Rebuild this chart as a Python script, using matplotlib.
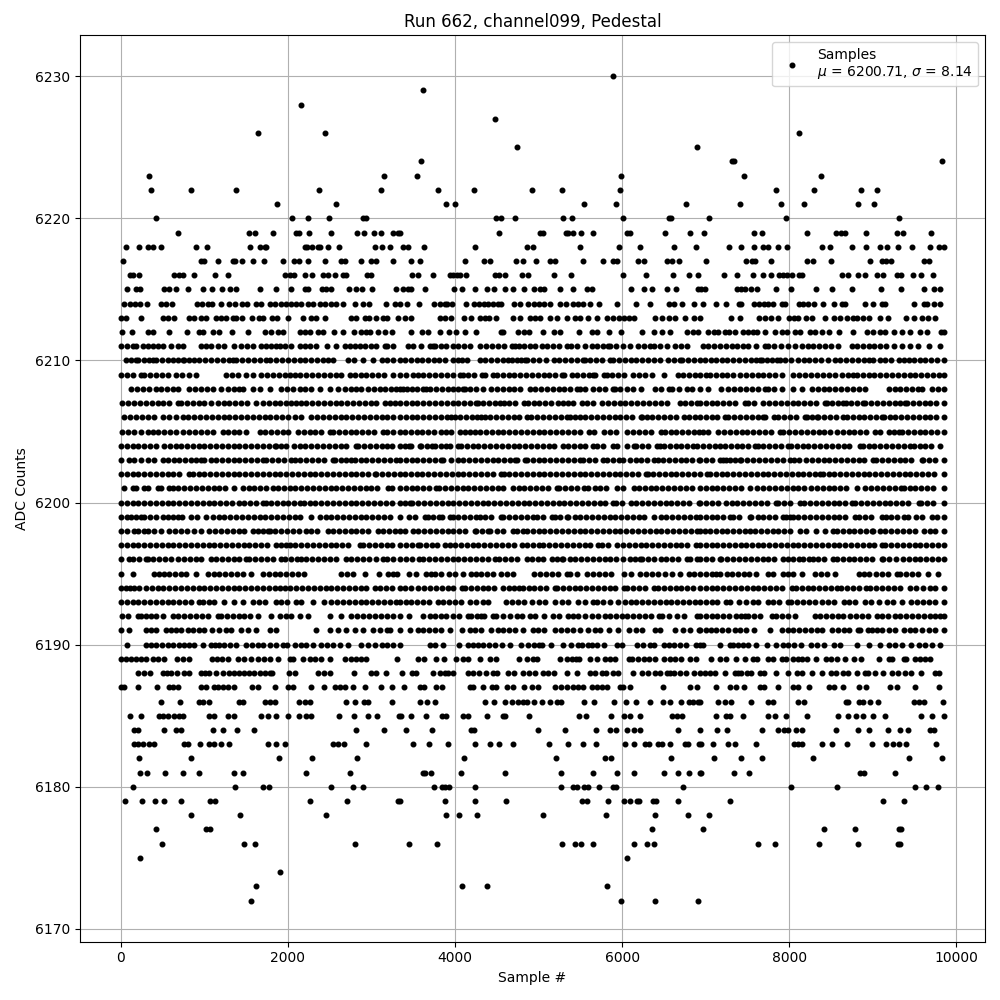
# -*- coding: utf-8 -*-
import numpy as np
import matplotlib
matplotlib.use("Agg")
import matplotlib.pyplot as plt

# sample numbers, one list per ADC level
s6230 = [5896]
s6229 = [3616]
s6228 = [2156]
s6227 = [4480]
s6226 = [1640, 2444, 8120]
s6225 = [4744, 6892]
s6224 = [3592, 7310, 7340, 9824]
s6223 = [332, 3152, 3544, 5992, 7460, 8384]
s6222 = [356, 836, 1376, 2372, 3116, 3796, 4228, 4924, 5284, 5980, 7844, 8300, 8864, 9044]
s6221 = [1868, 2576, 3892, 4000, 5548, 5932, 6760, 7412, 7904, 8180, 8828, 9020]
s6220 = [416, 2048, 2240, 2492, 2900, 2930, 4492, 4552, 4720, 5296, 5404, 6016, 6556, 6584, 7040, 7964, 9308]
s6219 = [680, 1532, 1604, 1820, 2100, 2132, 2252, 2516, 2828, 2912, 3032, 3116, 3260, 3320, 3336, 4528, 5016, 5048,
         5328, 5356, 5416, 5512, 5656, 6056, 6088, 6508, 6808, 6980, 7580, 7676, 8216, 8560, 8624, 8672, 8924, 9284,
         9356, 9692]
s6218 = [68, 212, 320, 380, 476, 896, 1028, 1544, 1664, 1720, 1740, 2208, 2228, 2288, 2360, 2388, 2480, 2612, 3044,
         3128, 3224, 3376, 3436, 3628, 4240, 4856, 4936, 5500, 5968, 6208, 6616, 6880, 7280, 7424, 7580, 7688, 7748,
         7868, 7976, 8396, 8492, 8756, 8920, 9088, 9168, 9296, 9464, 9688, 9788, 9848]
s6217 = [32, 960, 1000, 1160, 1340, 1372, 1448, 1580, 1712, 1940, 2072, 2132, 2240, 2444, 2640, 2680, 2876, 3000, 3060,
         3260, 3476, 3580, 4116, 4348, 4420, 4732, 4816, 4972, 5136, 5196, 5536, 5772, 5896, 5936, 6184, 6256, 6536,
         6600, 6676, 7004, 7488, 7550, 7588, 7784, 8216, 8288, 8504, 8968, 9108, 9160, 9216, 9616, 9668]
s6216 = [108, 140, 220, 640, 700, 740, 872, 1124, 1280, 1960, 2020, 2072, 2204, 2288, 2420, 2480, 2560, 2660, 2700,
         2952, 3000, 3488, 3556, 3736, 3936, 3980, 4020, 4060, 4136, 4476, 4528, 4600, 4804, 4876, 5188, 5388, 6008,
         6280, 6604, 6796, 6904, 7220, 7376, 7568, 7688, 7784, 7880, 7930, 7976, 8036, 8120, 8148, 8636, 8708, 8828,
         8908, 9044, 9116, 9288, 9340, 9476, 9572, 9716]
s6215 = [72, 180, 228, 520, 580, 656, 800, 980, 1088, 1208, 1304, 1380, 1664, 1856, 2040, 2200, 2240, 2408, 2460, 2520,
         2732, 2812, 2888, 3008, 3296, 3376, 3436, 3476, 3640, 3988, 4088, 4240, 4384, 4468, 4600, 4696, 4824, 4948,
         5016, 5068, 5260, 5416, 5576, 5644, 6100, 6256, 6352, 6532, 6640, 6904, 6948, 6988, 7376, 7428, 7476, 7548,
         7616, 7844, 8024, 8324, 8516, 8756, 9092, 9332, 9608, 9728, 9800]
s6214 = [40, 110, 170, 230, 310, 480, 540, 608, 908, 970, 1040, 1088, 1196, 1300, 1372, 1448, 1510, 1620, 1676, 1780,
         1840, 1920, 1980, 2040, 2100, 2160, 2240, 2300, 2380, 2440, 2512, 2570, 2660, 2804, 2900, 2972, 3176, 3280,
         3340, 3428, 3568, 3748, 3816, 3880, 3900, 3964, 4132, 4228, 4290, 4350, 4400, 4456, 4516, 4556, 4708, 4776,
         4876, 4940, 5000, 5060, 5136, 5256, 5324, 5416, 5476, 5536, 5616, 5728, 5936, 6160, 6336, 6556, 6620, 6716,
         6864, 6968, 7128, 7244, 7400, 7428, 7580, 7640, 7700, 7748, 7808, 7908, 7948, 8120, 8160, 8228, 8300, 8408,
         8540, 8628, 8672, 8908, 9000, 9108, 9148, 9488, 9608, 9648, 9728, 9808]
s6213 = [0, 60, 236, 500, 560, 640, 820, 880, 956, 1016, 1140, 1200, 1256, 1340, 1380, 1452, 1568, 1652, 1700, 1808,
         1868, 2000, 2180, 2280, 2340, 2440, 2760, 2820, 2920, 2972, 3060, 3140, 3180, 3320, 3396, 3476, 3816, 3880,
         3956, 4108, 4196, 4296, 4360, 4408, 4492, 4696, 4776, 4896, 4956, 5016, 5140, 5224, 5344, 5436, 5496, 5596,
         5696, 5816, 5896, 5960, 6020, 6076, 6136, 6396, 6476, 6556, 6628, 6748, 6856, 6936, 7304, 7412, 7640, 7708,
         7780, 7868, 8000, 8060, 8108, 8200, 8276, 8432, 8536, 8608, 8688, 8768, 8808, 8888, 8960, 9088, 9180, 9392,
         9488, 9588, 9660, 9748]
s6212 = [20, 128, 320, 380, 572, 792, 940, 980, 1100, 1180, 1328, 1520, 1728, 1796, 1880, 1940, 2140, 2200, 2268, 2360,
         2420, 2556, 2664, 2788, 2880, 2940, 2980, 3080, 3160, 3244, 3476, 3604, 3676, 3820, 3928, 4016, 4116, 4252,
         4550, 4576, 4756, 4828, 4888, 5056, 5184, 5256, 5488, 5636, 5696, 5848, 5992, 6240, 6376, 6476, 6568, 6772,
         6848, 6904, 7028, 7100, 7148, 7228, 7280, 7356, 7448, 7508, 7568, 7608, 7708, 7828, 7908, 7968, 8068, 8130,
         8248, 8308, 8388, 8480, 8600, 8768, 8928, 9000, 9080, 9148, 9248, 9348, 9448, 9568, 9648, 9816, 9850]
s6211 = [0, 70, 140, 180, 260, 320, 390, 450, 500, 600, 680, 740, 960, 1020, 1080, 1160, 1240, 1350, 1440, 1510, 1580,
         1680, 1740, 1800, 1860, 1900, 1970, 2040, 2140, 2200, 2270, 2340, 2470, 2580, 2680, 2740, 2800, 2860, 2920,
         2990, 3060, 3160, 3180, 3260, 3436, 3500, 3596, 3696, 3736, 3756, 3830, 3896, 3976, 4040, 4110, 4176, 4296,
         4376, 4444, 4516, 4590, 4676, 4716, 4768, 4830, 4896, 4956, 5036, 5100, 5170, 5248, 5336, 5390, 5456, 5556,
         5636, 5696, 5770, 5836, 5856, 5930, 6008, 6088, 6184, 6260, 6328, 6376, 6450, 6536, 6636, 6700, 6776, 6968,
         7030, 7100, 7170, 7240, 7310, 7380, 7448, 7508, 7600, 7708, 7748, 7820, 7900, 7980, 8068, 8148, 8220, 8290,
         8360, 8430, 8500, 8588, 8748, 8810, 8880, 8950, 9020, 9090, 9160, 9248, 9348, 9448, 9540, 9668, 9800]
s6210 = [60, 120, 180, 210, 280, 340, 380, 420, 490, 560, 630, 690, 740, 760, 820, 880, 940, 1010, 1080, 1150, 1220,
         1290, 1340, 1380, 1450, 1520, 1590, 1660, 1740, 1780, 1860, 1930, 2000, 2070, 2140, 2210, 2280, 2350, 2420,
         2480, 2540, 2720, 2790, 2900, 3020, 3120, 3190, 3260, 3336, 3400, 3470, 3540, 3610, 3680, 3750, 3810, 3876,
         3976, 4030, 4088, 4148, 4296, 4360, 4430, 4500, 4570, 4630, 4676, 4736, 4790, 4836, 4864, 4930, 5000, 5088,
         5184, 5250, 5320, 5390, 5460, 5536, 5556, 5620, 5690, 5760, 5856, 5896, 5960, 6030, 6100, 6170, 6240, 6310,
         6380, 6456, 6544, 6620, 6696, 6716, 6790, 6856, 6928, 6990, 7068, 7128, 7190, 7260, 7330, 7400, 7470, 7540,
         7600, 7648, 7668, 7730, 7790, 7848, 7888, 7950, 8020, 8108, 8176, 8240, 8310, 8380, 8468, 8548, 8610, 8680,
         8750, 8820, 8890, 8950, 9008, 9080, 9150, 9216, 9308, 9370, 9430, 9488, 9560, 9630, 9700, 9770, 9848]
s6209 = [0, 80, 150, 240, 280, 350, 420, 490, 560, 660, 730, 820, 900, 1260, 1330, 1400, 1500, 1580, 1680, 1750, 1820,
         1890, 1960, 2020, 2080, 2150, 2220, 2290, 2360, 2430, 2500, 2570, 2640, 2740, 2800, 2870, 2940, 3010, 3080,
         3150, 3260, 3336, 3410, 3496, 3556, 3620, 3690, 3760, 3830, 3900, 3970, 4056, 4096, 4160, 4230, 4328, 4356,
         4456, 4504, 4570, 4640, 4710, 4780, 4850, 4920, 4990, 5060, 5130, 5200, 5276, 5304, 5396, 5464, 5536, 5600,
         5656, 5676, 5784, 5816, 5880, 5950, 6024, 6124, 6196, 6270, 6356, 6496, 6664, 6730, 6800, 6870, 6936, 7008,
         7048, 7120, 7190, 7260, 7328, 7408, 7480, 7550, 7620, 7690, 7760, 7830, 7908, 8048, 8120, 8190, 8260, 8330,
         8400, 8470, 8548, 8628, 8700, 8760, 8808, 8880, 8950, 9020, 9090, 9160, 9230, 9300, 9370, 9440, 9510, 9580,
         9650, 9720, 9790, 9848]
s6208 = [120, 190, 260, 340, 420, 480, 550, 620, 690, 820, 890, 960, 1030, 1100, 1200, 1280, 1360, 1410, 1460, 1580,
         1660, 1790, 1920, 1990, 2060, 2140, 2210, 2280, 2380, 2500, 2600, 2680, 2750, 2820, 2880, 2960, 3030, 3100,
         3160, 3230, 3290, 3340, 3376, 3424, 3490, 3550, 3616, 3648, 3696, 3776, 3840, 3910, 3980, 4040, 4096, 4116,
         4180, 4250, 4336, 4436, 4500, 4570, 4640, 4710, 4776, 4896, 4960, 5030, 5100, 5170, 5240, 5310, 5380, 5456,
         5496, 5556, 5656, 5720, 5790, 5896, 5916, 5976, 6056, 6130, 6224, 6396, 6470, 6556, 6596, 6676, 6776, 6840,
         6936, 7028, 7188, 7268, 7340, 7410, 7480, 7550, 7620, 7708, 7748, 7820, 7908, 8048, 8148, 8268, 8340, 8410,
         8480, 8550, 8620, 8690, 8760, 8830, 8908, 9188, 9260, 9330, 9400, 9470, 9540, 9588, 9708, 9780, 9850]
s6207 = [20, 90, 160, 230, 300, 370, 440, 510, 580, 680, 720, 790, 860, 930, 1000, 1080, 1160, 1230, 1300, 1370, 1440,
         1510, 1620, 1700, 1770, 1840, 1910, 1980, 2040, 2100, 2160, 2220, 2290, 2360, 2430, 2500, 2570, 2640, 2710,
         2780, 2850, 2920, 2990, 3060, 3160, 3220, 3280, 3340, 3410, 3480, 3550, 3620, 3690, 3760, 3830, 3900, 3970,
         4040, 4110, 4180, 4256, 4276, 4340, 4410, 4480, 4536, 4584, 4650, 4720, 4824, 4876, 4940, 5010, 5080, 5150,
         5236, 5296, 5350, 5408, 5516, 5580, 5650, 5756, 5836, 5900, 5970, 6040, 6110, 6180, 6250, 6320, 6390, 6460,
         6536, 6688, 6750, 6820, 6890, 6936, 7000, 7070, 7140, 7210, 7280, 7350, 7468, 7508, 7580, 7688, 7760, 7830,
         7900, 7970, 8040, 8110, 8180, 8250, 8320, 8428, 8448, 8510, 8580, 8648, 8676, 8740, 8810, 8888, 8908, 8980,
         9050, 9120, 9190, 9260, 9330, 9388, 9408, 9480, 9550, 9620, 9690, 9760, 9848]
s6206 = [40, 110, 180, 250, 320, 400, 500, 580, 660, 740, 810, 880, 950, 1020, 1090, 1160, 1230, 1300, 1370, 1440,
         1510, 1580, 1650, 1720, 1790, 1860, 1930, 2000, 2080, 2160, 2280, 2350, 2420, 2490, 2560, 2630, 2700, 2770,
         2840, 2910, 2980, 3050, 3120, 3190, 3260, 3336, 3410, 3480, 3550, 3620, 3690, 3760, 3830, 3900, 3956, 3996,
         4060, 4130, 4200, 4260, 4316, 4356, 4420, 4490, 4560, 4630, 4700, 4770, 4856, 4904, 4984, 5056, 5130, 5200,
         5270, 5336, 5376, 5440, 5496, 5556, 5630, 5700, 5770, 5840, 5910, 5980, 6050, 6120, 6224, 6232, 6296, 6356,
         6430, 6500, 6570, 6640, 6736, 6796, 6876, 6936, 7000, 7070, 7140, 7228, 7268, 7340, 7410, 7480, 7550, 7620,
         7688, 7708, 7816, 7868, 7940, 8010, 8080, 8188, 8208, 8270, 8328, 8348, 8420, 8490, 8560, 8648, 8688, 8760,
         8830, 8900, 8970, 9040, 9108, 9128, 9200, 9270, 9340, 9410, 9480, 9550, 9620, 9690, 9760, 9850]
s6205 = [20, 90, 160, 240, 320, 380, 450, 520, 590, 660, 740, 820, 890, 960, 1030, 1100, 1220, 1280, 1350, 1420, 1500,
         1660, 1730, 1800, 1870, 1940, 2000, 2120, 2190, 2260, 2330, 2400, 2500, 2540, 2610, 2680, 2750, 2820, 2890,
         2960, 3030, 3140, 3180, 3260, 3336, 3400, 3470, 3540, 3610, 3680, 3750, 3836, 3888, 3950, 4056, 4116, 4184,
         4236, 4300, 4370, 4440, 4510, 4580, 4650, 4720, 4790, 4860, 4930, 5000, 5070, 5140, 5210, 5280, 5356, 5424,
         5490, 5608, 5664, 5784, 5856, 5930, 6064, 6128, 6200, 6270, 6340, 6464, 6516, 6584, 6650, 6720, 6790, 6860,
         6916, 6968, 7028, 7148, 7220, 7290, 7360, 7430, 7500, 7570, 7640, 7710, 7780, 7888, 7928, 8000, 8070, 8140,
         8210, 8280, 8350, 8420, 8490, 8576, 8640, 8710, 8780, 8850, 8920, 9028, 9088, 9188, 9248, 9308, 9348, 9420,
         9490, 9560, 9630, 9700, 9770, 9850]
s6204 = [0, 70, 140, 210, 280, 350, 420, 520, 590, 660, 720, 790, 860, 930, 1000, 1070, 1140, 1210, 1280, 1350, 1420,
         1490, 1560, 1630, 1700, 1770, 1840, 1860, 1920, 1980, 2070, 2140, 2210, 2280, 2350, 2420, 2490, 2560, 2640,
         2700, 2820, 2840, 2910, 2980, 3050, 3120, 3180, 3240, 3340, 3400, 3448, 3476, 3576, 3596, 3660, 3728, 3756,
         3830, 3896, 3936, 4036, 4076, 4140, 4210, 4280, 4350, 4420, 4490, 4560, 4630, 4700, 4770, 4840, 4910, 4980,
         5050, 5120, 5190, 5296, 5356, 5420, 5490, 5560, 5656, 5696, 5770, 5896, 5936, 6056, 6136, 6168, 6240, 6310,
         6416, 6456, 6496, 6568, 6640, 6710, 6780, 6850, 6896, 6968, 7040, 7110, 7168, 7228, 7300, 7370, 7440, 7510,
         7588, 7628, 7688, 7760, 7830, 7900, 7988, 8016, 8090, 8160, 8230, 8300, 8370, 8440, 8510, 8580, 8650, 8720,
         8848, 8880, 8950, 9020, 9090, 9160, 9230, 9300, 9370, 9440, 9488, 9560, 9630, 9700, 9808]
s6203 = [0, 100, 160, 240, 320, 400, 500, 560, 640, 700, 770, 840, 900, 960, 1000, 1080, 1140, 1210, 1280, 1350, 1420,
         1490, 1560, 1630, 1700, 1740, 1810, 1880, 1950, 2040, 2080, 2150, 2220, 2290, 2360, 2430, 2540, 2560, 2630,
         2700, 2760, 2800, 2870, 2940, 3010, 3080, 3150, 3220, 3290, 3340, 3410, 3480, 3550, 3620, 3690, 3760, 3836,
         3856, 3956, 4036, 4100, 4170, 4240, 4310, 4380, 4450, 4520, 4590, 4660, 4716, 4744, 4836, 4864, 4930, 5000,
         5070, 5140, 5210, 5280, 5350, 5420, 5496, 5528, 5600, 5670, 5776, 5824, 5890, 5960, 6016, 6088, 6160, 6230,
         6300, 6376, 6424, 6490, 6560, 6630, 6700, 6770, 6840, 6916, 6928, 7000, 7070, 7168, 7208, 7248, 7288, 7350,
         7408, 7428, 7500, 7570, 7640, 7710, 7780, 7850, 7920, 8008, 8056, 8120, 8200, 8270, 8340, 8410, 8480, 8550,
         8620, 8690, 8760, 8830, 8900, 9008, 9040, 9110, 9180, 9250, 9320, 9390, 9460, 9588, 9600, 9670, 9740, 9850]
s6202 = [0, 70, 140, 210, 280, 350, 420, 490, 560, 630, 700, 820, 860, 930, 1000, 1070, 1140, 1210, 1280, 1350, 1420,
         1490, 1560, 1630, 1700, 1770, 1840, 1910, 1980, 2050, 2120, 2190, 2260, 2330, 2400, 2470, 2540, 2610, 2680,
         2750, 2820, 2890, 2960, 3040, 3060, 3130, 3200, 3270, 3336, 3400, 3470, 3540, 3610, 3680, 3750, 3820, 3890,
         3960, 4030, 4100, 4170, 4240, 4310, 4380, 4450, 4556, 4584, 4650, 4720, 4790, 4860, 4930, 5000, 5070, 5140,
         5210, 5280, 5350, 5420, 5490, 5560, 5630, 5700, 5770, 5840, 5910, 5980, 6050, 6120, 6190, 6288, 6304, 6370,
         6440, 6510, 6580, 6650, 6720, 6790, 6860, 6936, 7016, 7048, 7120, 7190, 7260, 7330, 7400, 7470, 7540, 7610,
         7680, 7750, 7820, 7890, 7960, 8030, 8100, 8170, 8240, 8310, 8368, 8400, 8470, 8540, 8610, 8680, 8750, 8820,
         8890, 8960, 9030, 9100, 9170, 9240, 9310, 9380, 9450, 9520, 9590, 9660, 9730, 9850]
s6201 = [40, 140, 180, 280, 320, 440, 480, 580, 620, 690, 760, 830, 900, 970, 1040, 1110, 1180, 1250, 1360, 1460, 1530,
         1600, 1670, 1740, 1820, 1880, 1950, 2020, 2090, 2160, 2230, 2300, 2370, 2440, 2510, 2580, 2650, 2720, 2790,
         2860, 2930, 3000, 3070, 3200, 3240, 3340, 3410, 3480, 3550, 3620, 3690, 3776, 3808, 3880, 3950, 4020, 4090,
         4160, 4230, 4300, 4370, 4440, 4510, 4576, 4688, 4760, 4830, 4900, 4970, 5040, 5110, 5216, 5248, 5320, 5390,
         5460, 5544, 5596, 5670, 5740, 5810, 5936, 6008, 6136, 6200, 6270, 6340, 6410, 6480, 6550, 6620, 6690, 6760,
         6830, 6936, 7000, 7070, 7140, 7210, 7280, 7350, 7420, 7528, 7616, 7690, 7760, 7830, 7900, 7970, 8040, 8110,
         8180, 8256, 8328, 8400, 8470, 8540, 8610, 8680, 8808, 8908, 8980, 9050, 9120, 9190, 9260, 9340, 9368, 9440,
         9510, 9580, 9650, 9720, 9850]
s6200 = [0, 70, 140, 210, 280, 350, 420, 490, 560, 630, 700, 770, 840, 910, 980, 1050, 1120, 1190, 1260, 1330, 1420,
         1480, 1550, 1620, 1700, 1740, 1800, 1870, 1940, 2000, 2070, 2140, 2190, 2260, 2330, 2400, 2470, 2540, 2610,
         2680, 2750, 2820, 2890, 2960, 3030, 3100, 3170, 3240, 3340, 3400, 3464, 3488, 3560, 3630, 3700, 3770, 3840,
         3910, 3980, 4050, 4120, 4190, 4260, 4330, 4400, 4470, 4540, 4610, 4680, 4750, 4820, 4890, 4960, 5030, 5100,
         5170, 5240, 5310, 5380, 5450, 5520, 5590, 5660, 5730, 5800, 5896, 5928, 6000, 6104, 6168, 6240, 6310, 6380,
         6450, 6520, 6590, 6660, 6730, 6800, 6916, 6928, 7000, 7070, 7148, 7240, 7310, 7380, 7450, 7520, 7590, 7660,
         7730, 7840, 7868, 7940, 8010, 8128, 8176, 8250, 8320, 8390, 8460, 8530, 8600, 8670, 8748, 8788, 8860, 8930,
         9000, 9070, 9140, 9210, 9280, 9350, 9420, 9548, 9576, 9650, 9720, 9848]
s6199 = [0, 80, 120, 180, 240, 280, 350, 420, 500, 560, 620, 680, 730, 840, 910, 1020, 1100, 1170, 1240, 1310, 1380,
         1450, 1520, 1590, 1660, 1730, 1800, 1870, 1940, 2010, 2080, 2150, 2280, 2380, 2450, 2520, 2590, 2660, 2730,
         2800, 2870, 2940, 3010, 3080, 3150, 3220, 3340, 3448, 3520, 3636, 3676, 3740, 3808, 3848, 3936, 3976, 4040,
         4110, 4180, 4248, 4296, 4360, 4430, 4556, 4576, 4650, 4720, 4790, 4860, 4936, 4984, 5050, 5156, 5196, 5260,
         5336, 5356, 5430, 5500, 5570, 5640, 5710, 5780, 5850, 5920, 5990, 6060, 6130, 6196, 6256, 6376, 6464, 6530,
         6600, 6670, 6740, 6810, 6880, 6936, 7000, 7070, 7140, 7210, 7288, 7328, 7400, 7528, 7548, 7620, 7690, 7760,
         7830, 7928, 7960, 8008, 8040, 8110, 8180, 8250, 8320, 8390, 8460, 8530, 8600, 8670, 8788, 8840, 8910, 8980,
         9108, 9156, 9216, 9290, 9376, 9416, 9520, 9590, 9708, 9768, 9850]
s6198 = [0, 80, 160, 200, 280, 320, 400, 480, 580, 650, 720, 790, 880, 960, 1060, 1130, 1200, 1270, 1340, 1410, 1480,
         1580, 1640, 1700, 1760, 1780, 1850, 1920, 1990, 2060, 2130, 2220, 2280, 2350, 2480, 2540, 2610, 2680, 2750,
         2820, 2890, 2960, 3080, 3140, 3210, 3280, 3340, 3400, 3496, 3556, 3630, 3700, 3770, 3840, 3910, 3980, 4050,
         4120, 4236, 4256, 4320, 4396, 4424, 4500, 4570, 4696, 4736, 4808, 4856, 4930, 5000, 5070, 5140, 5210, 5280,
         5350, 5420, 5490, 5560, 5630, 5700, 5770, 5840, 5910, 5980, 6050, 6120, 6190, 6260, 6330, 6400, 6470, 6540,
         6610, 6680, 6750, 6820, 6890, 6936, 6988, 7048, 7120, 7190, 7260, 7330, 7400, 7470, 7536, 7588, 7660, 7730,
         7800, 7870, 7940, 8010, 8128, 8200, 8320, 8428, 8520, 8568, 8640, 8710, 8780, 8850, 8920, 8988, 9008, 9080,
         9150, 9220, 9290, 9360, 9430, 9500, 9608, 9688, 9748, 9850]
s6197 = [0, 80, 140, 210, 280, 350, 420, 490, 560, 630, 700, 770, 840, 910, 980, 1050, 1120, 1190, 1260, 1330, 1400,
         1470, 1540, 1610, 1680, 1750, 1860, 1920, 1980, 2020, 2090, 2160, 2230, 2300, 2370, 2440, 2510, 2580, 2650,
         2720, 2860, 2900, 2970, 3040, 3110, 3180, 3250, 3340, 3410, 3480, 3556, 3584, 3650, 3720, 3790, 3876, 3936,
         4000, 4070, 4140, 4210, 4280, 4350, 4420, 4490, 4560, 4630, 4700, 4796, 4856, 4930, 5008, 5056, 5130, 5200,
         5270, 5340, 5410, 5480, 5550, 5620, 5716, 5756, 5830, 5936, 6008, 6080, 6150, 6220, 6290, 6360, 6430, 6500,
         6570, 6640, 6710, 6780, 6888, 6928, 7000, 7070, 7140, 7210, 7280, 7350, 7428, 7480, 7550, 7620, 7690, 7760,
         7830, 7900, 7970, 8040, 8110, 8180, 8250, 8320, 8390, 8460, 8530, 8600, 8670, 8740, 8810, 8880, 8950, 9020,
         9108, 9148, 9220, 9290, 9360, 9430, 9500, 9570, 9640, 9710, 9780, 9850]
s6196 = [0, 100, 140, 220, 300, 320, 390, 460, 530, 600, 680, 760, 830, 900, 960, 1080, 1140, 1210, 1280, 1350, 1420,
         1500, 1540, 1610, 1680, 1750, 1820, 1920, 1970, 2040, 2110, 2160, 2220, 2290, 2360, 2430, 2500, 2570, 2700,
         2760, 2830, 2900, 2970, 3060, 3140, 3180, 3260, 3340, 3410, 3480, 3568, 3616, 3690, 3760, 3830, 3900, 3970,
         4040, 4110, 4180, 4250, 4320, 4390, 4476, 4524, 4596, 4670, 4740, 4856, 4916, 4990, 5056, 5156, 5216, 5276,
         5296, 5370, 5440, 5510, 5580, 5650, 5720, 5790, 5860, 5930, 6016, 6088, 6150, 6216, 6236, 6310, 6380, 6464,
         6528, 6600, 6670, 6776, 6816, 6890, 6936, 7000, 7070, 7168, 7188, 7260, 7330, 7400, 7470, 7540, 7610, 7680,
         7750, 7820, 7920, 7988, 8050, 8120, 8168, 8240, 8288, 8348, 8420, 8528, 8568, 8640, 8710, 8780, 8850, 8920,
         8990, 9108, 9120, 9190, 9280, 9360, 9430, 9500, 9570, 9640, 9710, 9780, 9850]
s6195 = [0, 150, 400, 460, 520, 580, 650, 720, 780, 900, 1040, 1110, 1180, 1250, 1320, 1390, 1460, 1560, 1700, 1770,
         1840, 1910, 1980, 2050, 2120, 2190, 2640, 2710, 2780, 2920, 3090, 3200, 3260, 3300, 3448, 3528, 3648, 3716,
         3764, 3836, 3928, 4000, 4096, 4196, 4250, 4316, 4384, 4456, 4556, 4620, 4696, 4948, 5016, 5090, 5160, 5230,
         5336, 5376, 5456, 5576, 5650, 5720, 5790, 5864, 6024, 6104, 6216, 6290, 6360, 6430, 6516, 6596, 6696, 6796,
         6856, 6928, 7000, 7070, 7128, 7176, 7250, 7320, 7390, 7460, 7520, 7596, 7740, 7810, 7920, 7988, 8048, 8156,
         8308, 8380, 8450, 8548, 8840, 8900, 8960, 9040, 9108, 9180, 9288, 9328, 9400, 9470, 9540, 9660, 9776]
s6194 = [0, 60, 110, 160, 220, 300, 370, 440, 510, 580, 650, 720, 790, 860, 930, 1000, 1070, 1140, 1210, 1280, 1350,
         1420, 1490, 1560, 1630, 1700, 1770, 1840, 1900, 1960, 2030, 2100, 2170, 2240, 2310, 2380, 2450, 2520, 2590,
         2660, 2730, 2800, 2870, 2940, 3040, 3100, 3170, 3240, 3340, 3400, 3470, 3556, 3624, 3700, 3770, 3840, 3910,
         3980, 4088, 4116, 4190, 4260, 4330, 4400, 4470, 4576, 4644, 4710, 4768, 4808, 4880, 4950, 5020, 5090, 5196,
         5216, 5290, 5360, 5430, 5500, 5570, 5640, 5710, 5780, 5850, 5920, 6024, 6056, 6130, 6200, 6270, 6376, 6424,
         6500, 6570, 6640, 6710, 6780, 6850, 6936, 7000, 7070, 7140, 7210, 7280, 7350, 7420, 7490, 7560, 7630, 7700,
         7770, 7840, 7910, 8028, 8076, 8150, 8220, 8290, 8360, 8430, 8500, 8576, 8616, 8690, 8760, 8830, 8916, 8968,
         9040, 9110, 9180, 9250, 9320, 9448, 9520, 9600, 9680, 9750, 9850]
s6193 = [0, 70, 140, 210, 280, 350, 420, 490, 560, 630, 700, 770, 840, 940, 980, 1050, 1120, 1240, 1360, 1460, 1580,
         1650, 1720, 1860, 1920, 1990, 2100, 2160, 2300, 2430, 2520, 2590, 2660, 2730, 2800, 2870, 2940, 3010, 3080,
         3150, 3220, 3290, 3340, 3416, 3476, 3550, 3620, 3690, 3796, 3856, 3930, 4000, 4070, 4176, 4256, 4330, 4396,
         4608, 4680, 4750, 4820, 4916, 5008, 5080, 5196, 5276, 5350, 5476, 5556, 5648, 5696, 5770, 5856, 5956, 6030,
         6100, 6170, 6240, 6310, 6380, 6450, 6520, 6590, 6660, 6730, 6800, 6870, 6936, 7000, 7070, 7140, 7240, 7296,
         7400, 7488, 7560, 7630, 7748, 7800, 7880, 7988, 8016, 8096, 8170, 8240, 8310, 8388, 8468, 8540, 8656, 8716,
         8788, 8908, 8980, 9068, 9168, 9240, 9348, 9456, 9530, 9600, 9670, 9740, 9848]
s6192 = [20, 90, 200, 240, 300, 360, 420, 500, 620, 690, 760, 830, 900, 970, 1040, 1160, 1200, 1270, 1340, 1410, 1480,
         1550, 1640, 1800, 1900, 1980, 2040, 2140, 2240, 2500, 2640, 2760, 2830, 2900, 2970, 3040, 3110, 3180, 3260,
         3336, 3448, 3616, 3696, 3756, 3830, 3896, 3976, 4050, 4156, 4196, 4260, 4316, 4344, 4456, 4496, 4570, 4656,
         4736, 4796, 4896, 4956, 5064, 5168, 5240, 5356, 5416, 5476, 5556, 5636, 5716, 5790, 5860, 5930, 5996, 6056,
         6130, 6200, 6270, 6340, 6436, 6476, 6556, 6656, 6736, 6896, 6928, 7000, 7070, 7140, 7210, 7280, 7368, 7428,
         7468, 7508, 7580, 7650, 7788, 7840, 7910, 7980, 8068, 8308, 8368, 8440, 8510, 8580, 8648, 8728, 8800, 8870,
         8940, 9048, 9108, 9180, 9268, 9328, 9400, 9470, 9540, 9610, 9680, 9748, 9808, 9850]
s6191 = [0, 100, 300, 360, 420, 540, 600, 660, 720, 800, 860, 940, 1000, 1090, 1180, 1260, 1320, 1440, 1520, 1620, 1780,
         1860, 2340, 2500, 2600, 2700, 2800, 2900, 3020, 3100, 3180, 3220, 3340, 3456, 3556, 3620, 3690, 3756, 3836,
         3936, 4088, 4176, 4240, 4316, 4436, 4510, 4580, 4650, 4720, 4816, 4936, 4996, 5068, 5196, 5270, 5340, 5410,
         5496, 5596, 5670, 5736, 5848, 5948, 6076, 6160, 6236, 6396, 6456, 6636, 6728, 6816, 6916, 6928, 7000, 7068,
         7128, 7200, 7270, 7348, 7408, 7488, 7576, 7768, 7908, 7980, 8050, 8120, 8190, 8260, 8328, 8388, 8508, 8580,
         8650, 8720, 8828, 8848, 8948, 8988, 9048, 9108, 9190, 9268, 9368, 9440, 9510, 9588, 9668, 9748, 9848]
s6190 = [80, 300, 360, 420, 490, 560, 620, 700, 760, 820, 870, 980, 1080, 1130, 1180, 1240, 1310, 1380, 1500, 1570,
         1640, 1700, 1780, 1860, 1940, 1990, 2090, 2160, 2220, 2300, 2400, 2470, 2540, 2620, 2720, 2880, 2960, 3040,
         3120, 3190, 3260, 3340, 3696, 3756, 3856, 4048, 4156, 4220, 4280, 4340, 4408, 4480, 4564, 4660, 4784, 4876,
         4940, 5000, 5036, 5152, 5288, 5388, 5476, 5516, 5596, 5636, 5696, 5784, 5936, 6004, 6172, 6244, 6328, 6384,
         6496, 6556, 6616, 6696, 6768, 6888, 6928, 6972, 7168, 7288, 7328, 7388, 7448, 7508, 7604, 7736, 7844, 7928,
         7988, 8060, 8136, 8256, 8328, 8416, 8540, 8608, 8812, 8960, 9088, 9188, 9268, 9348, 9460, 9548, 9628, 9704, 9808]
s6189 = [0, 60, 120, 180, 240, 300, 380, 450, 520, 670, 740, 820, 1090, 1150, 1210, 1280, 1400, 1470, 1560, 1640, 1710,
         1780, 1880, 2020, 2060, 2180, 2260, 2330, 2400, 2500, 2680, 2750, 2820, 2880, 2940, 3300, 3556, 3624, 3776,
         3868, 4008, 4096, 4156, 4296, 4424, 4496, 4768, 4856, 4936, 4976, 5260, 5336, 5400, 5448, 5488, 5616, 5696,
         5796, 5856, 5916, 6076, 6116, 6184, 6256, 6316, 6392, 6500, 6568, 6628, 6708, 6816, 6888, 7068, 7176, 7248,
         7368, 7468, 7568, 7608, 7748, 7800, 7908, 7960, 8040, 8108, 8148, 8208, 8324, 8440, 8496, 8568, 8668, 8780,
         8864, 9068, 9188, 9228, 9368, 9400, 9508, 9568, 9628, 9688]
s6188 = [210, 280, 350, 500, 550, 600, 672, 752, 812, 960, 1010, 1050, 1140, 1220, 1290, 1360, 1420, 1480, 1540, 1600,
         1660, 1720, 1780, 1810, 2010, 2080, 2360, 2430, 2500, 2790, 3000, 3060, 3170, 3368, 3488, 3536, 3736, 3824,
         3876, 3916, 3976, 4156, 4216, 4288, 4372, 4456, 4508, 4636, 4708, 4808, 4888, 4960, 5056, 5116, 5188, 5344,
         5464, 5616, 5680, 5760, 5808, 5888, 5956, 6124, 6236, 6304, 6388, 6450, 6540, 6568, 6624, 6688, 6760, 6864,
         6936, 6990, 7050, 7110, 7228, 7348, 7388, 7428, 7490, 7548, 7648, 7696, 7844, 7988, 8088, 8148, 8272, 8396,
         8496, 8560, 8640, 8708, 8808, 8908, 8948, 9028, 9116, 9228, 9300, 9388, 9456, 9572, 9748, 9788]
s6187 = [8, 36, 200, 428, 580, 620, 680, 960, 1020, 1120, 1160, 1220, 1280, 1360, 1572, 1640, 1848, 2000, 2060, 2276,
         2432, 2560, 2620, 2680, 2780, 2924, 3116, 3240, 3388, 3576, 3624, 3776, 3844, 4184, 4216, 4336, 4448, 4496,
         4624, 4696, 4824, 4920, 4996, 5200, 5272, 5344, 5416, 5476, 5536, 5636, 5696, 5756, 5816, 5976, 6016, 6096,
         6484, 6808, 6892, 7128, 7296, 7368, 7460, 7648, 7696, 7868, 8048, 8108, 8240, 8480, 8540, 8648, 8840, 8920,
         9200, 9288, 9500, 9788]
s6186 = [476, 704, 932, 980, 1060, 1412, 1460, 1720, 1780, 1840, 2132, 2200, 2260, 2696, 2800, 2908, 2960, 3248, 3580,
         3664, 3760, 4360, 4468, 4600, 4676, 4756, 4816, 4864, 4948, 5044, 5140, 5216, 5272, 5548, 5668, 5908, 6052,
         6168, 6328, 6488, 6568, 6700, 6796, 6848, 6904, 6928, 7148, 7228, 7308, 7544, 7748, 7800, 8108, 8180, 8676,
         8708, 8840, 8888, 8972, 9056, 9488, 9548, 9608, 9836]
s6185 = [116, 236, 460, 500, 568, 640, 700, 740, 1052, 1116, 1280, 1360, 1676, 1760, 1860, 2000, 2132, 2220, 2280,
         2612, 2792, 2960, 3068, 3332, 3356, 3472, 3652, 3844, 3896, 4096, 4156, 4384, 4576, 4600, 4888, 5488, 5572,
         5872, 6028, 6088, 6208, 6596, 6656, 6712, 7128, 7248, 7288, 7448, 7740, 7828, 7960, 8216, 8588, 8704, 8800,
         8888, 9008, 9148, 9572, 9708, 9850]
s6184 = [160, 200, 512, 656, 720, 1100, 1220, 1388, 1592, 2816, 3152, 3416, 3724, 4196, 4224, 4996, 5320, 5692, 5856,
         5932, 6056, 6136, 6208, 6664, 6928, 7136, 7256, 7676, 7868, 7940, 7988, 8080, 8148, 8564, 8828, 8960, 9176,
         9320, 9416, 9680, 9728]
s6183 = [152, 200, 260, 340, 400, 752, 808, 944, 1060, 1120, 1200, 1300, 1760, 1856, 1964, 2540, 2600, 2672, 2936, 3496,
         3688, 3916, 4236, 4420, 4528, 4696, 5128, 5356, 5536, 5692, 6040, 6136, 6276, 6316, 6424, 6476, 6572, 6756,
         6784, 6924, 6948, 7088, 7268, 7348, 7604, 8060, 8108, 8148, 8396, 8516, 8696, 8988, 9152, 9236, 9308, 9392, 9752]
s6182 = [220, 840, 1892, 2288, 2828, 4108, 5212, 5800, 5872, 6580, 7100, 7424, 7676, 8288, 9428, 9824]
s6181 = [228, 308, 524, 740, 932, 1352, 1460, 2216, 2744, 3616, 3644, 3716, 4072, 4600, 5272, 5656, 5944, 6136, 6500,
         6664, 6796, 6928, 6948, 7340, 7520, 8848, 8900, 9260]
s6180 = [140, 1364, 1700, 1772, 2516, 2780, 2900, 3748, 3844, 3880, 3928, 4240, 5272, 5416, 5456, 5548, 5596, 5728,
         5896, 5928, 6724, 8024, 8576, 9500, 9632, 9776]
s6179 = [56, 248, 404, 512, 716, 1064, 1128, 2264, 2708, 3312, 3336, 3880, 4240, 4612, 5524, 5584, 5836, 6028, 6096,
         6172, 6196, 6364, 6408, 6664, 7292, 9116, 9368]
s6178 = [836, 1424, 2456, 3892, 4048, 4264, 5056, 5812, 6392, 6784, 7040]
s6177 = [416, 1020, 1068, 6352, 6968, 8420, 8792, 9308, 9336]
s6176 = [488, 1472, 1604, 2804, 3448, 3784, 5284, 5440, 5512, 5656, 6136, 6292, 6376, 7628, 7832, 8360, 8828, 9296, 9328]
s6175 = [224, 6064]
s6174 = [1904]
s6173 = [1616, 4084, 4384, 5824]
s6172 = [1556, 5992, 6396, 6904]

levels = [6230, 6229, 6228, 6227, 6226, 6225, 6224, 6223, 6222, 6221, 6220, 6219, 6218, 6217, 6216, 6215, 6214, 6213,
          6212, 6211, 6210, 6209, 6208, 6207, 6206, 6205, 6204, 6203, 6202, 6201, 6200, 6199, 6198, 6197, 6196, 6195,
          6194, 6193, 6192, 6191, 6190, 6189, 6188, 6187, 6186, 6185, 6184, 6183, 6182, 6181, 6180, 6179, 6178, 6177,
          6176, 6175, 6174, 6173, 6172]
rows = [s6230, s6229, s6228, s6227, s6226, s6225, s6224, s6223, s6222, s6221, s6220, s6219, s6218, s6217, s6216, s6215,
        s6214, s6213, s6212, s6211, s6210, s6209, s6208, s6207, s6206, s6205, s6204, s6203, s6202, s6201, s6200, s6199,
        s6198, s6197, s6196, s6195, s6194, s6193, s6192, s6191, s6190, s6189, s6188, s6187, s6186, s6185, s6184, s6183,
        s6182, s6181, s6180, s6179, s6178, s6177, s6176, s6175, s6174, s6173, s6172]

x = np.concatenate([np.array(r) for r in rows])
y = np.concatenate([np.full(len(r), l) for r, l in zip(rows, levels)])

plt.figure(figsize=(10, 10))
ax = plt.gca()
ax.plot(x, y, 'k.', markersize=6.6, label="Samples\n$\\mu$ = 6200.71, $\\sigma$ = 8.14")
ax.set_title("Run 662, channel099, Pedestal")
ax.set_xlabel("Sample #")
ax.set_ylabel("ADC Counts")
ax.legend(loc="upper right")
ax.grid(True)
plt.tight_layout()
plt.subplots_adjust(top=0.965)
plt.savefig("out.png", dpi=100)
